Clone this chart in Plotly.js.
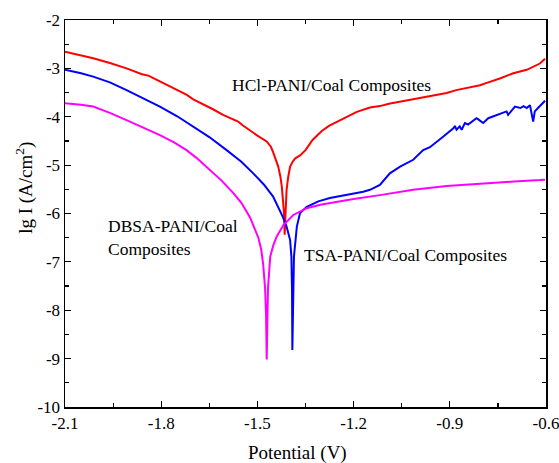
<!DOCTYPE html>
<html>
<head>
<meta charset="utf-8">
<script src="https://cdn.plot.ly/plotly-3.0.1.min.js"></script>
<style>html,body{margin:0;padding:0;background:#fff;}#chart{width:559px;height:463px;}</style>
</head>
<body>
<div id="chart"></div>
<script>
// HCl-PANI/Coal Composites (red)
const hclV  = [-2.1,-2.05,-2.012,-1.96,-1.908,-1.86,-1.84,-1.804,-1.77,-1.742,-1.72,-1.70,-1.669,-1.64,-1.607,-1.58,-1.56,-1.545,-1.523,-1.50,-1.471,-1.458,-1.451,-1.443,-1.435,-1.428,-1.424,-1.42,-1.417,-1.415,-1.413,-1.411,-1.409,-1.404,-1.398,-1.39,-1.382,-1.367,-1.35,-1.328,-1.30,-1.277,-1.25,-1.225,-1.19,-1.149,-1.118,-1.09,-1.055,-1.02,-0.993,-0.95,-0.91,-0.88,-0.848,-0.806,-0.78,-0.744,-0.702,-0.66,-0.619,-0.603];
const hclLg = [-2.655,-2.73,-2.79,-2.89,-3.00,-3.12,-3.15,-3.27,-3.38,-3.48,-3.55,-3.64,-3.74,-3.84,-3.96,-4.05,-4.10,-4.18,-4.29,-4.39,-4.51,-4.62,-4.73,-4.88,-5.03,-5.25,-5.44,-5.75,-6.00,-6.44,-6.10,-5.75,-5.51,-5.25,-5.03,-4.93,-4.86,-4.80,-4.69,-4.48,-4.30,-4.19,-4.10,-4.00,-3.90,-3.81,-3.78,-3.73,-3.69,-3.65,-3.62,-3.57,-3.51,-3.45,-3.41,-3.35,-3.29,-3.21,-3.10,-3.03,-2.90,-2.80];

// TSA-PANI/Coal Composites (blue)
const tsaV  = [-2.1,-2.05,-2.012,-1.96,-1.908,-1.86,-1.804,-1.75,-1.70,-1.65,-1.596,-1.55,-1.513,-1.48,-1.451,-1.43,-1.42,-1.409,-1.398,-1.394,-1.392,-1.391,-1.389,-1.386,-1.377,-1.367,-1.346,-1.31,-1.274,-1.225,-1.17,-1.149,-1.135,-1.118,-1.087,-1.055,-1.014,-0.983,-0.962,-0.946,-0.920,-0.889,-0.884,-0.879,-0.869,-0.863,-0.853,-0.843,-0.817,-0.81,-0.796,-0.78,-0.754,-0.723,-0.718,-0.697,-0.68,-0.67,-0.66,-0.65,-0.640,-0.635,-0.625,-0.609,-0.603];
const tsaLg = [-3.03,-3.10,-3.17,-3.29,-3.45,-3.60,-3.79,-3.99,-4.20,-4.42,-4.69,-4.93,-5.17,-5.40,-5.65,-5.93,-6.08,-6.27,-6.55,-6.89,-7.60,-8.82,-7.60,-6.89,-6.27,-5.99,-5.86,-5.75,-5.68,-5.62,-5.55,-5.51,-5.46,-5.41,-5.17,-5.03,-4.89,-4.69,-4.63,-4.55,-4.41,-4.24,-4.19,-4.27,-4.20,-4.27,-4.13,-4.16,-4.03,-4.06,-4.13,-4.03,-3.96,-3.89,-3.96,-3.79,-3.82,-3.78,-3.82,-3.76,-4.10,-3.89,-3.82,-3.71,-3.67];

// DBSA-PANI/Coal Composites (magenta)
const dbsaV  = [-2.1,-2.05,-2.012,-1.96,-1.908,-1.86,-1.804,-1.76,-1.721,-1.69,-1.648,-1.61,-1.575,-1.55,-1.523,-1.497,-1.488,-1.482,-1.476,-1.473,-1.471,-1.469,-1.467,-1.46,-1.45,-1.44,-1.419,-1.388,-1.346,-1.304,-1.25,-1.20,-1.118,-1.014,-0.910,-0.806,-0.70,-0.619,-0.603];
const dbsaLg = [-3.72,-3.75,-3.79,-3.92,-4.07,-4.21,-4.38,-4.53,-4.69,-4.85,-5.10,-5.33,-5.58,-5.78,-6.08,-6.50,-6.75,-7.05,-7.55,-8.10,-9.02,-8.10,-7.55,-6.89,-6.65,-6.48,-6.24,-6.03,-5.89,-5.82,-5.75,-5.70,-5.62,-5.51,-5.43,-5.38,-5.34,-5.31,-5.30];

const xTickVals = [-2.1,-1.8,-1.5,-1.2,-0.9,-0.6];
const xTickText = ["-2.1","-1.8","-1.5","-1.2","-0.9","-0.6"];
const yTickVals = [-10,-9,-8,-7,-6,-5,-4,-3,-2];
const yTickText = ["-10","-9","-8","-7","-6","-5","-4","-3","-2"];

const font = "Liberation Serif, Times New Roman, serif";

const traces = [
  {x: hclV, y: hclLg, mode: 'lines', line: {color: '#ff0000', width: 2}, name: 'HCl-PANI/Coal Composites'},
  {x: tsaV, y: tsaLg, mode: 'lines', line: {color: '#0000ff', width: 2}, name: 'TSA-PANI/Coal Composites'},
  {x: dbsaV, y: dbsaLg, mode: 'lines', line: {color: '#ff00ff', width: 2}, name: 'DBSA-PANI/Coal Composites'}
];

const layout = {
  width: 559, height: 463,
  margin: {l: 65, r: 13, t: 20, b: 56},
  paper_bgcolor: '#fff', plot_bgcolor: '#fff',
  showlegend: false,
  font: {family: font, size: 17, color: '#000'},
  xaxis: {
    range: [-2.1, -0.6], tickvals: xTickVals, ticktext: xTickText,
    ticklabeloverflow: 'allow',
    ticks: 'inside', ticklen: 6, tickwidth: 1.2, tickcolor: '#000',
    minor: {dtick: 0.15, tick0: -2.1, ticks: 'inside', ticklen: 4, tickwidth: 1.2, tickcolor: '#000', showgrid: false},
    showline: true, linecolor: '#000', linewidth: 1.5, mirror: 'ticks',
    showgrid: false, zeroline: false,
    tickfont: {family: font, size: 17}
  },
  yaxis: {
    range: [-10, -2], tickvals: yTickVals, ticktext: yTickText,
    ticklabeloverflow: 'allow',
    ticks: 'inside', ticklen: 6, tickwidth: 1.2, tickcolor: '#000',
    minor: {dtick: 0.5, tick0: -10, ticks: 'inside', ticklen: 4, tickwidth: 1.2, tickcolor: '#000', showgrid: false},
    showline: true, linecolor: '#000', linewidth: 1.5, mirror: 'ticks',
    showgrid: false, zeroline: false,
    tickfont: {family: font, size: 17}
  },
  annotations: [
    {x: -1.5855, y: -3.343, xref: 'x', yref: 'y', text: 'HCl-PANI/Coal Composites', showarrow: false, xanchor: 'left', yanchor: 'middle', font: {family: font, size: 17.5}},
    {x: -1.972, y: -6.49, xref: 'x', yref: 'y', text: 'DBSA-PANI/Coal<br>Composites', showarrow: false, xanchor: 'left', yanchor: 'middle', align: 'left', font: {family: font, size: 17.5}},
    {x: -1.361, y: -6.855, xref: 'x', yref: 'y', text: 'TSA-PANI/Coal Composites', showarrow: false, xanchor: 'left', yanchor: 'middle', font: {family: font, size: 17.5}},
    {x: -1.3735, y: 0, xref: 'x', yref: 'paper', yshift: -46, text: 'Potential (V)', showarrow: false, xanchor: 'center', yanchor: 'middle', font: {family: font, size: 19}},
    {x: 0, y: -5.47, xref: 'paper', yref: 'y', xshift: -40, text: 'lg I (A/cm<sup>2</sup>)', textangle: -90, showarrow: false, xanchor: 'center', yanchor: 'middle', font: {family: font, size: 19}}
  ]
};

Plotly.newPlot('chart', traces, layout, {staticPlot: true, displayModeBar: false});
</script>
</body>
</html>
